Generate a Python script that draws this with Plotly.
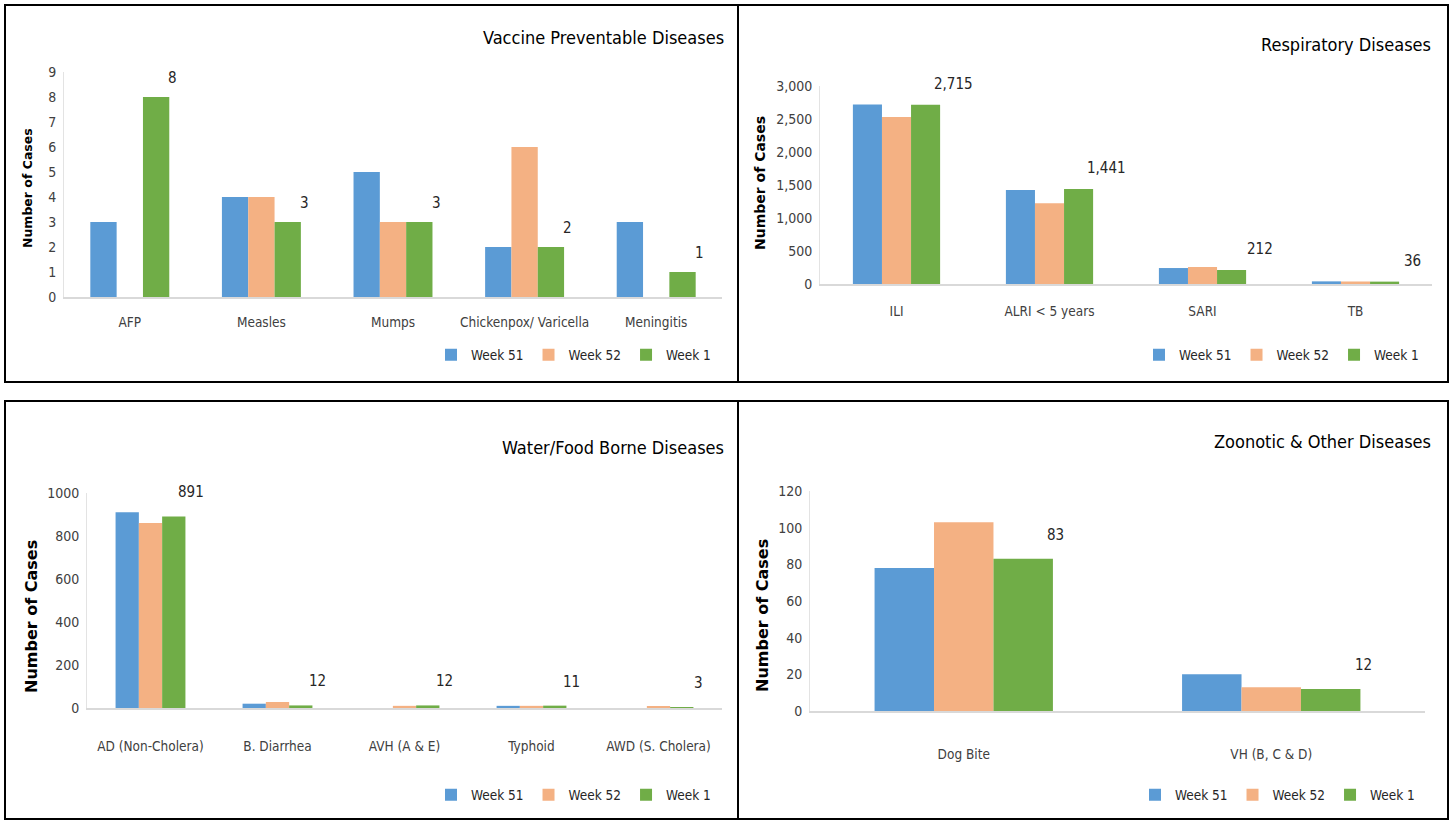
import plotly.graph_objects as go

# ---------------- data ----------------
series_names = ["Week 51", "Week 52", "Week 1"]
series_colors = ["#5B9BD5", "#F4B183", "#70AD47"]

vpd_categories = ["AFP", "Measles", "Mumps", "Chickenpox/ Varicella", "Meningitis"]
vpd_w51 = [3, 4, 5, 2, 3]
vpd_w52 = [0, 4, 3, 6, 0]
vpd_w1 = [8, 3, 3, 2, 1]

resp_categories = ["ILI", "ALRI < 5 years", "SARI", "TB"]
resp_w51 = [2720, 1425, 242, 40]
resp_w52 = [2530, 1225, 258, 38]
resp_w1 = [2715, 1441, 212, 36]

wfb_categories = ["AD (Non-Cholera)", "B. Diarrhea", "AVH (A & E)", "Typhoid", "AWD (S. Cholera)"]
wfb_w51 = [910, 20, 0, 10, 0]
wfb_w52 = [860, 28, 10, 10, 8]
wfb_w1 = [891, 12, 12, 11, 3]

zoo_categories = ["Dog Bite", "VH (B, C & D)"]
zoo_w51 = [78, 20]
zoo_w52 = [103, 13]
zoo_w1 = [83, 12]

panel_titles = ["Vaccine Preventable Diseases", "Respiratory Diseases",
                "Water/Food Borne Diseases", "Zoonotic & Other Diseases"]
y_title = "Number of Cases"

# ---------------- layout helpers ----------------
W, H = 1450, 821
NARROW = "DejaVu Sans Condensed, Liberation Sans Narrow, sans-serif"


def px(x):
    return x / W


def py(y):
    return 1 - y / H


fig = go.Figure()

panels = [
    dict(cats=vpd_categories, vals=[vpd_w51, vpd_w52, vpd_w1], title=panel_titles[0],
         xd=(64, 722), yd=(72, 297), rng=[0, 9], dtick=1, fmt="d", gap=0.4,
         lab_dx=43, lab_dy=19, standoff=12, title_xy=(726, 37), ytitle=(27, 188, 12.5),
         legend_xy=(716, 355), border=(5, 5, 738, 382)),
    dict(cats=resp_categories, vals=[resp_w51, resp_w52, resp_w1], title=panel_titles[1],
         xd=(820, 1432), yd=(86, 284), rng=[0, 3000], dtick=500, fmt=",", gap=0.43,
         lab_dx=57, lab_dy=21, standoff=14, title_xy=(1433, 44), ytitle=(760, 183, 14),
         legend_xy=(1424, 355), border=(738, 5, 1448, 382)),
    dict(cats=wfb_categories, vals=[wfb_w51, wfb_w52, wfb_w1], title=panel_titles[2],
         xd=(87, 722), yd=(493, 708), rng=[0, 1000], dtick=200, fmt="d", gap=0.45,
         lab_dx=40, lab_dy=24, standoff=25, title_xy=(726, 447), ytitle=(31, 617, 16),
         legend_xy=(716, 795), border=(5, 401, 738, 819)),
    dict(cats=zoo_categories, vals=[zoo_w51, zoo_w52, zoo_w1], title=panel_titles[3],
         xd=(810, 1425), yd=(491, 711), rng=[0, 120], dtick=20, fmt="d", gap=0.42,
         lab_dx=92, lab_dy=24, standoff=30, title_xy=(1433, 441), ytitle=(762, 616, 16),
         legend_xy=(1420, 795), border=(738, 401, 1448, 819)),
]

annotations = []
shapes = []
layout_axes = {}

for i, p in enumerate(panels, start=1):
    xa = "x" if i == 1 else f"x{i}"
    ya = "y" if i == 1 else f"y{i}"
    leg = "legend" if i == 1 else f"legend{i}"
    for name, color, vals in zip(series_names, series_colors, p["vals"]):
        fig.add_trace(go.Bar(
            x=p["cats"], y=vals, name=name, marker=dict(color=color, line=dict(width=0)),
            xaxis=xa, yaxis=ya, legend=leg, showlegend=True, hoverinfo="x+y+name",
        ))
    xkey = "xaxis" if i == 1 else f"xaxis{i}"
    ykey = "yaxis" if i == 1 else f"yaxis{i}"
    layout_axes[xkey] = dict(
        domain=[px(p["xd"][0]), px(p["xd"][1])], anchor=ya, showgrid=False,
        showline=True, linecolor="#D9D9D9", linewidth=2, ticks="", zeroline=False,
        tickfont=dict(family=NARROW, size=13.5, color="#404040"),
        ticklabelstandoff=p["standoff"], fixedrange=True, automargin=False,
    )
    layout_axes[ykey] = dict(
        domain=[py(p["yd"][1]), py(p["yd"][0])], anchor=xa, range=p["rng"],
        dtick=p["dtick"], tickformat=p["fmt"], showgrid=False, zeroline=False,
        showline=True, linecolor="#E3E3E3", linewidth=1, ticks="",
        tickfont=dict(family=NARROW, size=14, color="#404040"), fixedrange=True,
        ticklabelstandoff=4, automargin=False,
    )
    # data labels for Week 1
    w1 = p["vals"][2]
    for c, v in zip(p["cats"], w1):
        annotations.append(dict(
            x=c, y=v, xref=xa, yref=ya, text=f"{v:,}", showarrow=False,
            xshift=p["lab_dx"], yshift=p["lab_dy"], yanchor="middle",
            font=dict(family=NARROW, size=15, color="#262626"),
        ))
    # panel title
    annotations.append(dict(
        x=px(p["title_xy"][0]), y=py(p["title_xy"][1]), xref="paper", yref="paper",
        text=p["title"], showarrow=False, xanchor="right", yanchor="middle",
        font=dict(family=NARROW, size=18, color="#000000"),
    ))
    # y title
    annotations.append(dict(
        x=px(p["ytitle"][0]), y=py(p["ytitle"][1]), xref="paper", yref="paper",
        text=f"<b>{y_title}</b>", showarrow=False, textangle=-90,
        xanchor="center", yanchor="middle",
        font=dict(family="DejaVu Sans, sans-serif", size=p["ytitle"][2], color="#000000"),
    ))
    # legend
    layout_axes[leg] = dict(
        orientation="h", x=px(p["legend_xy"][0]), y=py(p["legend_xy"][1]),
        xanchor="right", yanchor="middle", bgcolor="rgba(0,0,0,0)",
        font=dict(family=NARROW, size=13.5, color="#262626"),
        itemwidth=30, tracegroupgap=0, traceorder="normal",
    )
    # border
    bx0, by0, bx1, by1 = p["border"]
    shapes.append(dict(
        type="rect", xref="paper", yref="paper",
        x0=px(bx0), x1=px(bx1), y0=py(by1), y1=py(by0),
        line=dict(color="#000000", width=2), fillcolor="rgba(0,0,0,0)", layer="above",
    ))

fig.update_layout(
    width=W, height=H, autosize=False,
    margin=dict(l=0, r=0, t=0, b=0, pad=0, autoexpand=False),
    paper_bgcolor="white", plot_bgcolor="white",
    barmode="group", bargap=0.42, bargroupgap=0,
    annotations=annotations, shapes=shapes,
    **layout_axes,
)

# per-panel bar widths (fraction of category spacing)
for idx, tr in enumerate(fig.data):
    p = panels[idx // 3]
    group = 1 - p["gap"]
    bw = group / 3
    tr.width = bw
    tr.offset = -group / 2 + bw * (idx % 3)

fig.write_html(
    "out.html",
    config={"displayModeBar": False},
    post_script="document.body.style.margin='0';document.body.style.overflow='hidden';",
)
